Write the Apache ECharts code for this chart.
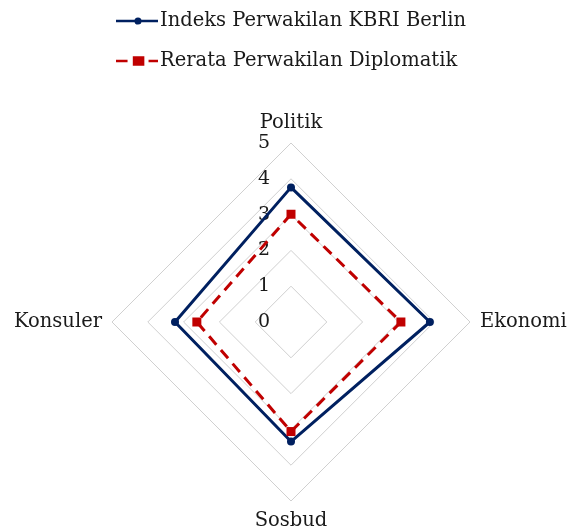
<!DOCTYPE html>
<html>
<head>
<meta charset="utf-8">
<script src="https://cdn.jsdelivr.net/npm/echarts@6/dist/echarts.min.js"></script>
<style>
  html, body { margin: 0; padding: 0; background: #fff; }
  #main { width: 569px; height: 532px; }
</style>
</head>
<body>
<div id="main"></div>
<script>
// values read clockwise from the top of the chart
var categories = ['Politik', 'Ekonomi', 'Sosbud', 'Konsuler'];
var seriesNames = ['Indeks Perwakilan KBRI Berlin', 'Rerata Perwakilan Diplomatik'];
var kbriBerlin = [3.76, 3.88, 3.34, 3.24];
var rerata = [3.01, 3.07, 3.06, 2.63];
var axisMax = 5;

// echarts radar runs counter-clockwise, so flip the order after the first axis
var order = [0, 3, 2, 1];
function pick(arr) { return order.map(function (i) { return arr[i]; }); }

var myChart = echarts.init(document.getElementById('main'));
var fontFam = 'DejaVu Serif';

// legend icons: line with marker in the middle
var iconBlue = 'path://M0 3.8L18.5 3.8L18.5 6.2L0 6.2Z M25.5 3.8L42 3.8L42 6.2L25.5 6.2Z M22 1.4A3.6 3.6 0 1 1 21.99 1.4Z';
var iconRed = 'path://M0 3.8L11 3.8L11 6.2L0 6.2Z M16 0.5L27 0.5L27 9.5L16 9.5Z M31 3.8L40 3.8L40 6.2L31 6.2Z';

var option = {
    backgroundColor: '#fff',
    legend: {
        data: [
            { name: seriesNames[0], icon: iconBlue },
            { name: seriesNames[1], icon: iconRed }
        ],
        orient: 'vertical',
        top: 6,
        left: 111,
        itemGap: 20,
        itemWidth: 42,
        itemHeight: 10,
        textStyle: { fontFamily: fontFam, fontSize: 19.5, color: '#1a1a1a', padding: [0, 0, 0, -3] }
    },
    radar: {
        center: [291, 322],
        radius: 179,
        startAngle: 90,
        shape: 'polygon',
        splitNumber: 5,
        nameGap: 10,
        axisName: { fontFamily: fontFam, fontSize: 19.5, color: '#1a1a1a' },
        axisLine: { show: false },
        axisTick: { show: false },
        axisLabel: { show: false },
        splitArea: { show: false },
        splitLine: { lineStyle: { color: '#d0d0d0', width: 1 } },
        indicator: pick(categories).map(function (c, i) {
            var ind = { name: c, min: 0, max: axisMax };
            if (i === 0) {
                ind.axisLabel = {
                    show: true, margin: 21, fontFamily: fontFam, fontSize: 19, color: '#1a1a1a'
                };
            }
            return ind;
        })
    },
    series: [{
        type: 'radar',
        data: [
            {
                name: seriesNames[0],
                value: pick(kbriBerlin),
                symbol: 'circle',
                symbolSize: 8,
                itemStyle: { color: '#002060' },
                lineStyle: { color: '#002060', width: 3 }
            },
            {
                name: seriesNames[1],
                value: pick(rerata),
                symbol: 'rect',
                symbolSize: 9,
                itemStyle: { color: '#c00000' },
                lineStyle: { color: '#c00000', width: 3, type: [11, 7] }
            }
        ]
    }]
};
myChart.setOption(option);
</script>
</body>
</html>
